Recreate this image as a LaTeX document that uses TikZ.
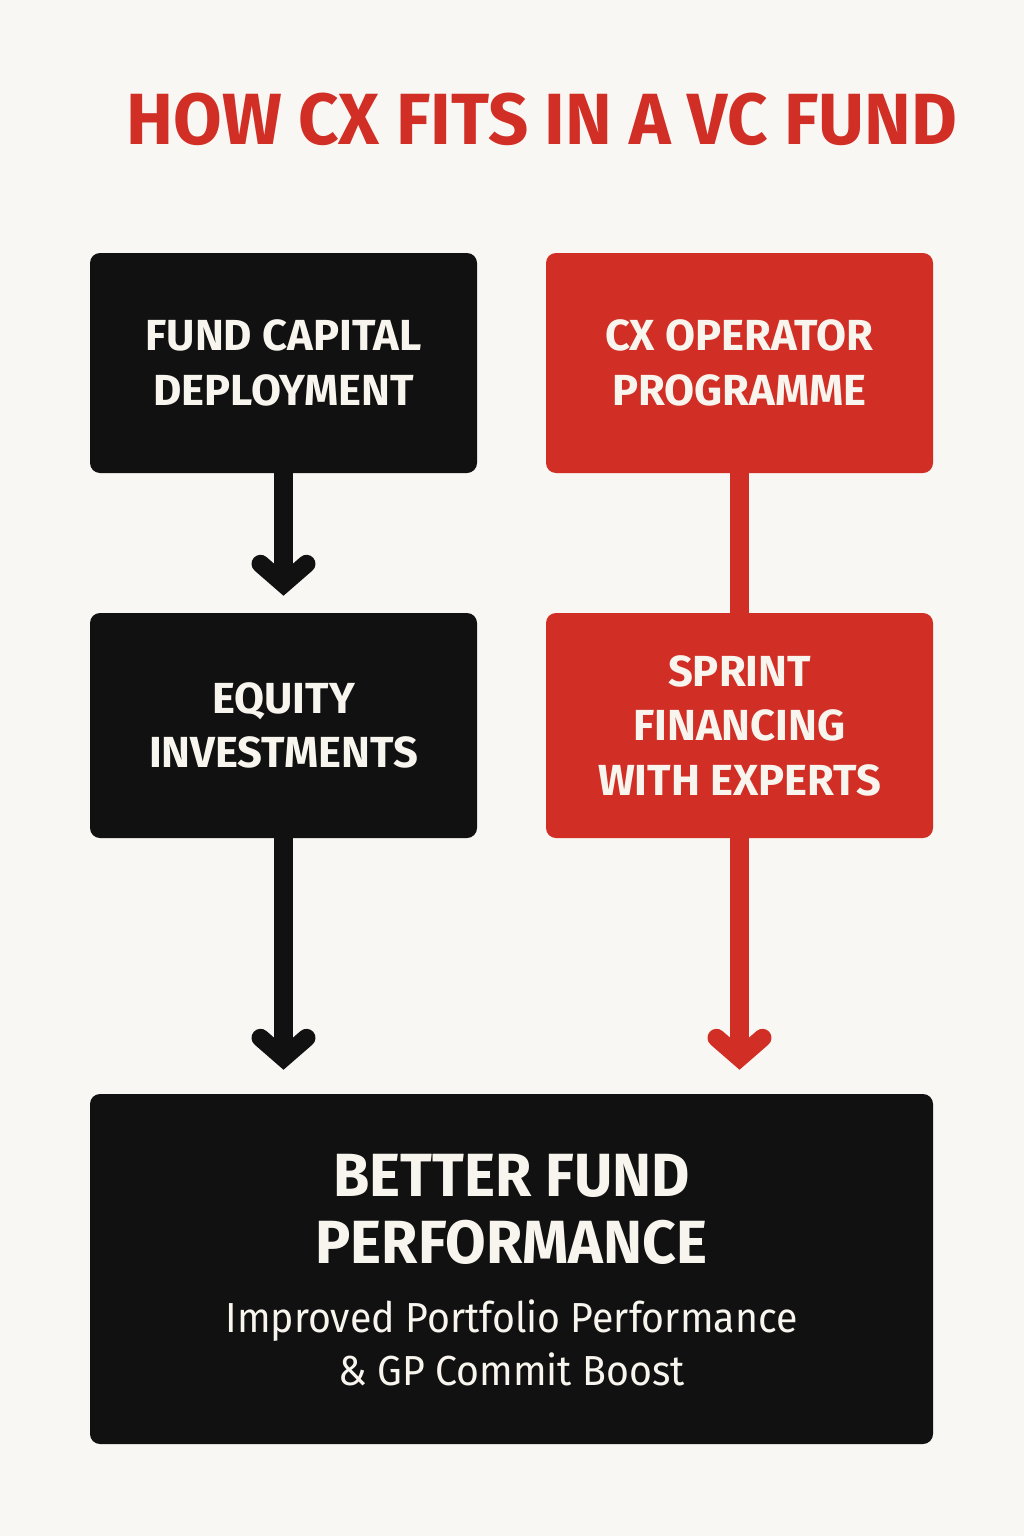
\documentclass[tikz,border=0pt]{standalone}
\usepackage{fontspec}
\setmainfont{Fira Sans}
\newfontfamily\titlefont[FakeStretch=0.972]{Fira Sans}
\newfontfamily\headfont[FakeStretch=0.965]{Fira Sans}
\newfontfamily\subfont[FakeStretch=0.935]{Fira Sans}
\usetikzlibrary{positioning}
\definecolor{bgc}{HTML}{F9F7F3}
\definecolor{cxred}{HTML}{D12E26}
\definecolor{cxblack}{HTML}{111111}
\definecolor{txtc}{HTML}{F8F4EE}
\tikzset{
  box/.style={rectangle, rounded corners=10pt, minimum width=387pt, inner sep=0pt, text=txtc, align=center,
     font=\bfseries\fontsize{43.5}{54.5}\selectfont},
  blackbox/.style={box, fill=cxblack},
  redbox/.style={box, fill=cxred},
  shaft/.style={line width=19pt},
  chev/.style={line width=18pt, line cap=round, line join=miter},
  headtext/.style={anchor=base, text=txtc, font=\headfont\bfseries\fontsize{61}{67}\selectfont},
  subtext/.style={anchor=base, text=txtc, font=\subfont\fontsize{42}{53}\selectfont},
}
\begin{document}
\begin{tikzpicture}[x=1pt,y=-1pt]
\fill[bgc] (0,0) rectangle (1024,1536);
\useasboundingbox (0,0) rectangle (1024,1536);
\node[anchor=base, text=cxred, font=\titlefont\bfseries\fontsize{72.5}{80}\selectfont] (title) at (542,145) {HOW CX FITS IN A VC FUND};
\node[blackbox, minimum height=220pt] (A) at (283.5,363) {FUND CAPITAL\\DEPLOYMENT};
\node[redbox, minimum height=220pt] (B) at (739.5,363) {CX OPERATOR\\PROGRAMME};
\node[blackbox, minimum height=225pt] (C) at (283.5,725.5) {EQUITY\\INVESTMENTS};
\node[redbox, minimum height=225pt] (D) at (739.5,725.5) {SPRINT\\FINANCING\\WITH EXPERTS};
\node[blackbox, minimum width=843pt, minimum height=350pt] (E) at (511.5,1269) {};
\node[headtext] (Eh) at ([yshift=-1196pt+1269pt]E.center) {BETTER FUND};
\node[headtext] (Eh2) at ([yshift=-67pt]Eh.base) {PERFORMANCE};
\node[subtext] (Es1) at ([yshift=-69pt]Eh2.base) {Improved Portfolio Performance};
\node[subtext] (Es2) at ([yshift=-53pt]Es1.base) {\& GP Commit Boost};
% connectors
\coordinate (v1) at ([yshift=29pt]C.north);
\draw[shaft, cxblack] (A.south) -- (v1);
\draw[chev, cxblack] ([xshift=-23pt, yshift=20pt]v1) -- (v1) -- ([xshift=23pt, yshift=20pt]v1);
\draw[shaft, cxred] (B.south) -- (D.north);
\coordinate (v2) at ([yshift=36pt]E.north -| C.south);
\draw[shaft, cxblack] (C.south) -- (v2);
\draw[chev, cxblack] ([xshift=-23pt, yshift=20pt]v2) -- (v2) -- ([xshift=23pt, yshift=20pt]v2);
\coordinate (v3) at ([yshift=36pt]E.north -| D.south);
\draw[shaft, cxred] (D.south) -- (v3);
\draw[chev, cxred] ([xshift=-23pt, yshift=20pt]v3) -- (v3) -- ([xshift=23pt, yshift=20pt]v3);
\end{tikzpicture}
\end{document}
